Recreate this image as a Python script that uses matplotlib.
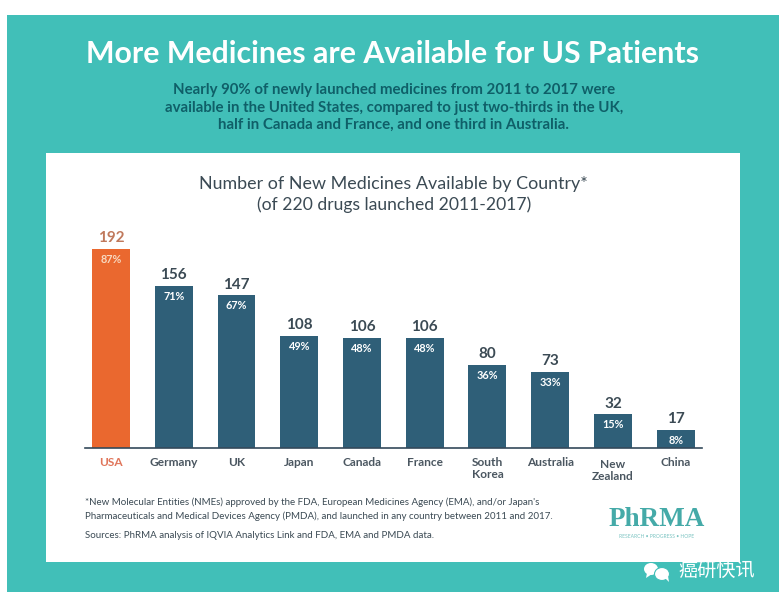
import matplotlib
matplotlib.use('Agg')
import matplotlib.pyplot as plt
from matplotlib.patches import Rectangle, Ellipse, Polygon

W, H = 779, 604

countries = ['USA', 'Germany', 'UK', 'Japan', 'Canada', 'France', 'South\nKorea', 'Australia', 'New\nZealand', 'China']
counts = [192, 156, 147, 108, 106, 106, 80, 73, 32, 17]
shares = ['87%', '71%', '67%', '49%', '48%', '48%', '36%', '33%', '15%', '8%']

TEAL = '#41bfb8'
NAVY = '#2f5f78'
ORANGE = '#ea682f'
DARK = '#3b4a54'

plt.rcParams['font.family'] = ['Lato', 'DejaVu Sans']


def fx(px):
    return px / W


def fy(py):
    return 1 - py / H


fig = plt.figure(figsize=(W / 100, H / 100), dpi=100, facecolor='white')

# background in pixel coordinates
bg = fig.add_axes([0, 0, 1, 1])
bg.set_xlim(0, W)
bg.set_ylim(H, 0)
bg.axis('off')
bg.add_patch(Rectangle((7, 15), W - 7, 577, color=TEAL, lw=0))
bg.add_patch(Rectangle((46, 153), 694, 409, color='white', lw=0))

fig.text(fx(393), fy(54), 'More Medicines are Available for US Patients', color='white',
         fontsize=21.8, fontweight='bold', ha='center', va='center')
subtitle = ['Nearly 90% of newly launched medicines from 2011 to 2017 were',
            'available in the United States, compared to just two-thirds in the UK,',
            'half in Canada and France, and one third in Australia.']
for line, y in zip(subtitle, [90, 108, 125]):
    fig.text(fx(394), fy(y), line, color='#0f5f68', fontsize=10.8, fontweight='bold', ha='center', va='center')

fig.text(fx(393), fy(184), 'Number of New Medicines Available by Country*', color=DARK,
         fontsize=12.9, ha='center', va='center')
fig.text(fx(394), fy(205), '(of 220 drugs launched 2011-2017)', color=DARK,
         fontsize=12.6, ha='center', va='center')

# bar chart, axes spans x 85-702 and the baseline sits at y 447
ax = fig.add_axes([fx(85), fy(447.5), (702 - 85) / W, (447.5 - 230) / H])
ax.patch.set_alpha(0)
positions = list(range(len(countries)))
colors = [ORANGE] + [NAVY] * (len(countries) - 1)
ax.bar(positions, counts, width=0.605, color=colors)
ax.set_xlim(-0.415, 9.42)
ax.set_ylim(0, 210)
ax.set_yticks([])
for s in ['top', 'left', 'right']:
    ax.spines[s].set_visible(False)
ax.spines['bottom'].set_color('#34495a')
ax.spines['bottom'].set_linewidth(1.2)
ax.set_xticks(positions)
ax.set_xticklabels([])
ax.tick_params(axis='x', length=0)

for i, (n, pct) in enumerate(zip(counts, shares)):
    ax.annotate(str(n), (i, n), xytext=(0, 2.5), textcoords='offset points', ha='center', va='bottom',
                color='#c0795c' if i == 0 else DARK, fontsize=11, fontweight='bold')
    ax.annotate(pct, (i, n), xytext=(0, -7.5), textcoords='offset points', ha='center', va='center',
                color='#f8d8c0' if i == 0 else 'white', fontsize=7.8, fontweight='bold')
    # New Zealand sits a little lower than the others
    ax.annotate(countries[i], (i, 0), xycoords=('data', 'axes fraction'), xytext=(0, -9.5 if i != 8 else -11.5),
                textcoords='offset pixels', ha='center', va='top', multialignment='center',
                color='#e0755a' if i == 0 else '#4a5660', fontsize=8.6, fontweight='bold', linespacing=1.15)

fig.text(fx(85), fy(502), "*New Molecular Entities (NMEs) approved by the FDA, European Medicines Agency (EMA), and/or Japan's",
         color=DARK, fontsize=7.05, ha='left', va='center')
fig.text(fx(85), fy(516), 'Pharmaceuticals and Medical Devices Agency (PMDA), and launched in any country between 2011 and 2017.',
         color=DARK, fontsize=7.05, ha='left', va='center')
fig.text(fx(85), fy(535), 'Sources: PhRMA analysis of IQVIA Analytics Link and FDA, EMA and PMDA data.',
         color=DARK, fontsize=7.05, ha='left', va='center')

# logo
fig.text(fx(657), fy(519), 'PhRMA', color='#45aaa8', fontsize=19.5, fontweight='bold', family='Liberation Serif', ha='center', va='center')
fig.text(fx(657), fy(536.5), 'RESEARCH \u2022 PROGRESS \u2022 HOPE', color='#7cc4c2', fontsize=3.6, ha='center', va='center')

# watermark
bg.add_patch(Ellipse((651, 569), 14, 12, facecolor='white', lw=0))
bg.add_patch(Polygon([[647, 573], [646, 578], [652, 574]], facecolor='white', lw=0))
bg.add_patch(Ellipse((662, 574), 15, 13, facecolor='white', edgecolor=TEAL, lw=0.8))
bg.add_patch(Polygon([[665, 578], [669, 582], [668, 576]], facecolor='white', lw=0))
fig.text(fx(717), fy(570), '癌研快讯', color='white', fontsize=13.8,
         family=['Noto Sans CJK SC', 'DejaVu Sans'], ha='center', va='center')

fig.savefig('out.png', dpi=100)
